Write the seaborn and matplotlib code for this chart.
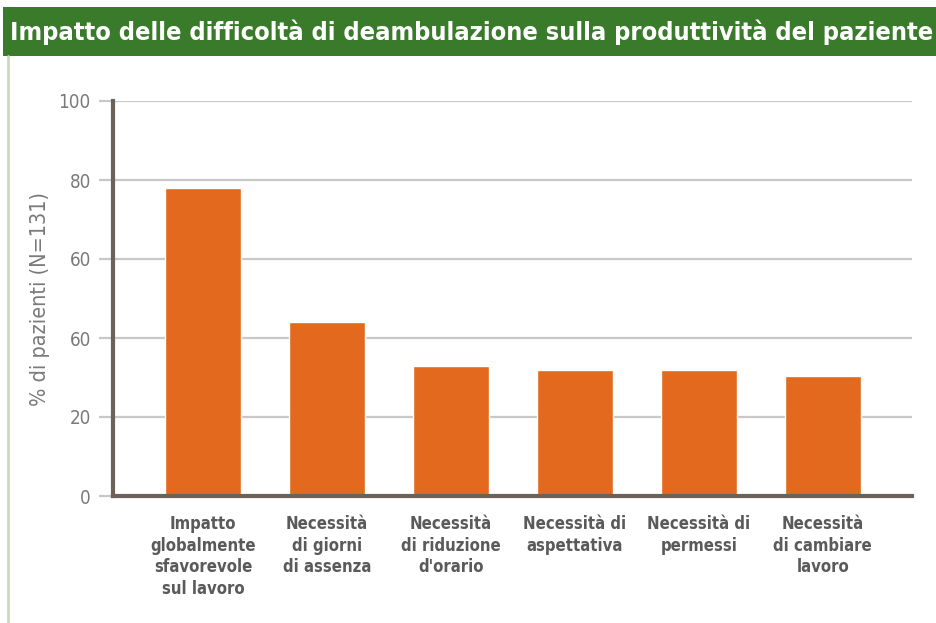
import matplotlib
matplotlib.use("Agg")
import matplotlib.pyplot as plt
from matplotlib.patches import Rectangle
from matplotlib.lines import Line2D
from matplotlib import font_manager
import seaborn as sns
import pandas as pd

# dati
categorie = [
    "Impatto\nglobalmente\nsfavorevole\nsul lavoro",
    "Necessità\ndi giorni\ndi assenza",
    "Necessità\ndi riduzione\nd'orario",
    "Necessità di\naspettativa",
    "Necessità di\npermessi",
    "Necessità\ndi cambiare\nlavoro",
]
percentuali = [78, 44, 33, 32, 32, 30.5]
y_ticks = [0, 20, 40, 60, 80, 100]
y_tick_labels = ["0", "20", "60", "60", "80", "100"]  # come nell'originale

titolo = "Impatto delle difficoltà di deambulazione sulla produttività del paziente"
etichetta_y = "% di pazienti (N=131)"

df = pd.DataFrame({"categoria": categorie, "perc": percentuali})

sns.set_style("white")
plt.rcParams["font.family"] = ["DejaVu Sans"]

# font condensato se disponibile
cond = [f for f in font_manager.fontManager.ttflist
        if f.name == "DejaVu Sans" and f.stretch == "condensed"]
stretch = "condensed" if cond else "normal"

fig = plt.figure(figsize=(9.37, 6.23), dpi=100)
fig.patch.set_facecolor("white")

# banda verde del titolo
fig.add_artist(Rectangle((3 / 937, 1 - 56 / 623), 1, 49 / 623, transform=fig.transFigure,
                         facecolor="#3a7b2b", edgecolor="none"))
fig.add_artist(Line2D([8 / 937, 8 / 937], [0, 1 - 56 / 623], transform=fig.transFigure,
                      color="#c9dcb8", lw=2))
t = fig.text(10 / 937, 1 - 32 / 623, titolo, color="white", fontweight="bold",
             fontstretch=stretch, fontsize=24, ha="left", va="center")
fig.canvas.draw()
w = t.get_window_extent().width
t.set_fontsize(24 * 925 / w)

ax = fig.add_axes([113 / 937, 127 / 623, 799 / 937, 395 / 623])
sns.barplot(data=df, x="categoria", y="perc", color="#e2691e", saturation=1,
            width=0.61, ax=ax, zorder=3)

ax.set_xlim(-0.726, 5.72)
ax.set_ylim(0, 100)
ax.set_yticks(y_ticks)
ax.set_yticklabels(y_tick_labels)
ax.yaxis.grid(True, color="#c8c8c8", lw=1.6, zorder=0)
ax.set_axisbelow(True)

for s in ["top", "right"]:
    ax.spines[s].set_visible(False)
for s in ["left", "bottom"]:
    ax.spines[s].set_color("#6c6259")
    ax.spines[s].set_linewidth(3)
    ax.spines[s].set_zorder(4)

ax.tick_params(axis="y", length=10, width=1.6, color="#c8c8c8", pad=6,
               labelsize=13.5, labelcolor="#7a7a7a", left=True)
ax.tick_params(axis="x", length=0, pad=14)
for lab in ax.get_yticklabels():
    lab.set_fontstretch(stretch)
for lab in ax.get_xticklabels():
    lab.set_fontsize(12)
    lab.set_fontweight("bold")
    lab.set_fontstretch(stretch)
    lab.set_color("#5a5a5a")
    lab.set_linespacing(1.25)
    lab.set_va("top")

ax.set_xlabel("")
ax.set_ylabel(etichetta_y, fontsize=15.5, color="#7a7a7a", labelpad=6,
              fontstretch=stretch)

fig.savefig("out.png", dpi=100, facecolor="white")
plt.close(fig)
